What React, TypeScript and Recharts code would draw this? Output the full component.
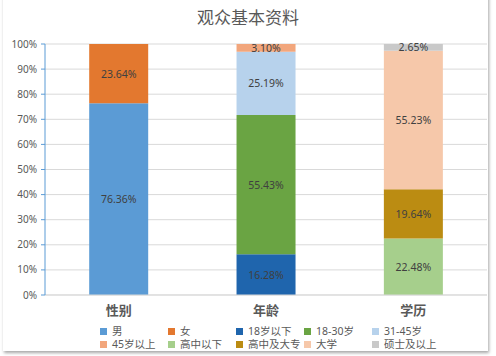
import { Bar, BarChart, CartesianGrid, LabelList, XAxis, YAxis } from "recharts";

const categories = ["性别", "年龄", "学历"];

const seriesNames = ["男", "女", "18岁以下", "18-30岁", "31-45岁", "45岁以上", "高中以下", "高中及大专", "大学", "硕士及以上"];
const seriesCategory = [0, 0, 1, 1, 1, 1, 2, 2, 2, 2];
const seriesValues = [76.36, 23.64, 16.28, 55.43, 25.19, 3.1, 22.48, 19.64, 55.23, 2.65];
const seriesColors = ["#5b9bd5", "#e3782f", "#1f65ad", "#6aa443", "#b7d2ec", "#f2a67c", "#a6cf8c", "#bb8c12", "#f6c8aa", "#c9c9c9"];

const yTicks = [0, 10, 20, 30, 40, 50, 60, 70, 80, 90, 100];

const data = categories.map((name, ci) => {
  const row: Record<string, string | number> = { name };
  seriesNames.forEach((s, i) => {
    if (seriesCategory[i] === ci) row[s] = seriesValues[i];
  });
  return row;
});

const font = "'Noto Sans', 'Noto Sans CJK SC', sans-serif";

function SegLabel(props: any) {
  const { x, y, width, height, value } = props;
  if (value === undefined || value === null) return null;
  return (
    <text x={x + width / 2} y={y + height / 2} textAnchor="middle" dominantBaseline="central" fontSize={10.5} fill="#404040" fontFamily={font}>
      {Number(value).toFixed(2)}%
    </text>
  );
}

export default function App() {
  return (
    <div style={{ position: "absolute", left: 0, top: 0, width: 496, height: 356, background: "#fff", overflow: "hidden", fontFamily: font }}>
      <div style={{ position: "absolute", left: 3, top: -6, width: 485, height: 357, boxShadow: "1px 2px 3px rgba(0,0,0,0.35)", background: "#fff" }} />
      <div style={{ position: "absolute", left: 0, top: 4, width: 496, textAlign: "center", fontSize: 17, color: "#595959", fontFamily: "'Noto Sans CJK SC', serif" }}>
        观众基本资料
      </div>
      <div style={{ position: "absolute", left: 0, top: 0 }}>
        <BarChart width={496} height={356} data={data} margin={{ top: 44, right: 9, bottom: 31, left: 0 }} barCategoryGap="30%">
          <CartesianGrid vertical={false} stroke="#d9d9d9" />
          <XAxis dataKey="name" height={30} axisLine={{ stroke: "#d9d9d9" }} tickLine={false} tickMargin={5}
            tick={{ fontSize: 13, fill: "#595959", fontWeight: "bold", fontFamily: "'Noto Sans CJK SC', sans-serif" }} />
          <YAxis width={45} domain={[0, 100]} ticks={yTicks} allowDataOverflow tickFormatter={(v) => `${v}%`}
            axisLine={{ stroke: "#5b9bd5" }} tickLine={{ stroke: "#5b9bd5" }} tickSize={4} tickMargin={4}
            tick={{ fontSize: 10, fill: "#595959", fontFamily: font }} />
          {seriesNames.map((s, i) => (
            <Bar key={s} dataKey={s} stackId="a" fill={seriesColors[i]} isAnimationActive={false}>
              <LabelList dataKey={s} content={SegLabel} />
            </Bar>
          ))}
        </BarChart>
      </div>
      <div style={{ position: "absolute", left: 100, top: 325, display: "grid", gridTemplateColumns: "68px 68px 68px 68px 68px", rowGap: 1, fontSize: 10.5, color: "#595959", lineHeight: "12px" }}>
        {seriesNames.map((s, i) => (
          <div key={s} style={{ display: "flex", alignItems: "center", whiteSpace: "nowrap" }}>
            <span style={{ display: "inline-block", width: 7, height: 7, background: seriesColors[i], marginRight: 5 }} />
            {s}
          </div>
        ))}
      </div>
    </div>
  );
}
